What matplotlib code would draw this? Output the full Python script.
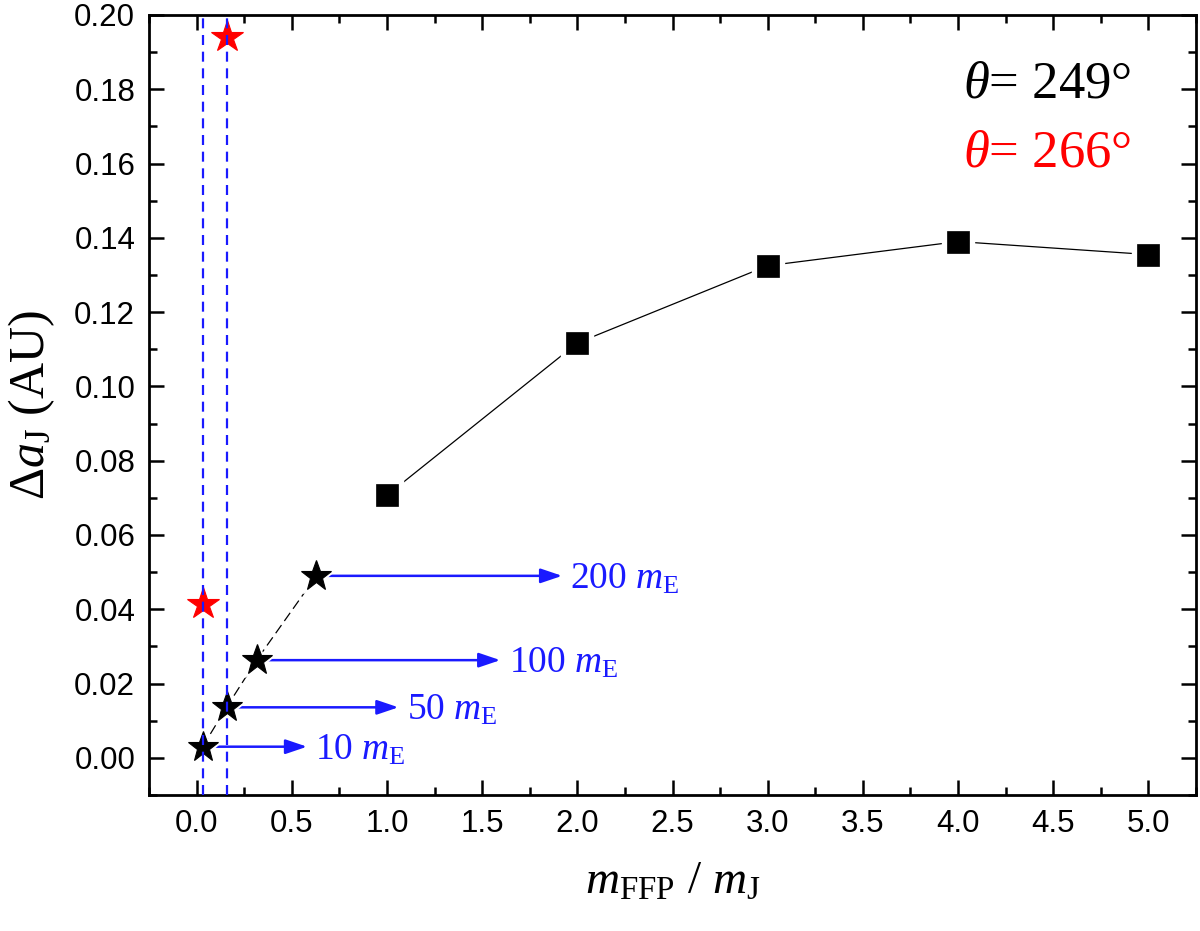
import numpy as np
import matplotlib
matplotlib.use("Agg")
import matplotlib.pyplot as plt
from matplotlib.ticker import MultipleLocator, FormatStrFormatter

plt.rcParams["font.family"] = ["Liberation Sans", "DejaVu Sans"]
plt.rcParams["mathtext.fontset"] = "custom"
plt.rcParams["mathtext.rm"] = "Liberation Serif"
plt.rcParams["mathtext.it"] = "Liberation Serif:italic"
plt.rcParams["mathtext.bf"] = "Liberation Serif:bold"

# --- data ---
jup_mass = [1, 2, 3, 4, 5]                       # m_FFP / m_J (squares)
jup_da   = [0.0707, 0.1117, 0.1325, 0.1390, 0.1355]

earth_labels = ["10", "50", "100", "200"]         # m_FFP in Earth masses
earth_x      = [0.0315, 0.157, 0.315, 0.629]      # same, in m_J
earth_da     = [0.0030, 0.0136, 0.0263, 0.0490]   # theta = 249 deg
arrow_tip    = [0.58, 1.06, 1.595, 1.92]

red_x  = [0.0315, 0.157]                          # theta = 266 deg
red_da = [0.0415, 0.1942]

vline_x = [0.033, 0.159]

BLUE = "#1a1aff"
SERIF = ["Liberation Serif", "DejaVu Serif"]

fig = plt.figure(figsize=(12, 9.31), dpi=100)
ax = fig.add_axes([0.1242, 0.1461, 0.8725, 0.8378])

# black squares with a gap between line and symbol
ax.plot(jup_mass, jup_da, color="black", lw=0.9, zorder=2)
ax.plot(jup_mass, jup_da, ls="none", marker="s", ms=23, mfc="white", mec="white", zorder=3)
ax.plot(jup_mass, jup_da, ls="none", marker="s", ms=16.5, mfc="black", mec="black", mew=0.5, zorder=4)

# black stars (dashed)
ax.plot(earth_x, earth_da, color="black", lw=0.9, ls=(0, (8, 4)), zorder=2)
ax.plot(earth_x, earth_da, ls="none", marker="*", ms=31, mfc="white", mec="white", zorder=3)
ax.plot(earth_x, earth_da, ls="none", marker="*", ms=23, mfc="black", mec="black", mew=0.8, zorder=4)

# red stars
ax.plot(red_x, red_da, ls="none", marker="*", ms=24, mfc="red", mec="red", mew=0.8, zorder=4)

for xv in vline_x:
    ax.axvline(xv, color=BLUE, lw=1.6, ls=(0, (4.5, 3)), zorder=5)

for lab, x0, y0, tip in zip(earth_labels, earth_x, earth_da, arrow_tip):
    ax.annotate("", xy=(tip, y0), xytext=(x0, y0),
                arrowprops=dict(arrowstyle="-|>,head_length=0.65,head_width=0.22",
                                color=BLUE, lw=1.8, mutation_scale=20,
                                shrinkA=0, shrinkB=0),
                zorder=2.5)
    ax.annotate(lab + r" $m_{\rm E}$", xy=(tip, y0), xytext=(6, -9),
                textcoords="offset points", ha="left", va="baseline",
                color=BLUE, fontsize=27, family=SERIF)

ax.text(0.7775, 0.8936, r"$\theta$= 249°", transform=ax.transAxes,
        fontsize=38, family=SERIF, color="black", va="baseline")
ax.text(0.7775, 0.806, r"$\theta$= 266°", transform=ax.transAxes,
        fontsize=38, family=SERIF, color="red", va="baseline")

ax.set_xlim(-0.25, 5.25)
ax.set_ylim(-0.01, 0.20)
ax.xaxis.set_major_locator(MultipleLocator(0.5))
ax.xaxis.set_minor_locator(MultipleLocator(0.25))
ax.yaxis.set_major_locator(MultipleLocator(0.02))
ax.yaxis.set_minor_locator(MultipleLocator(0.01))
ax.xaxis.set_major_formatter(FormatStrFormatter("%.1f"))
ax.yaxis.set_major_formatter(FormatStrFormatter("%.2f"))

ax.tick_params(which="both", direction="in", top=True, right=True, width=1.8)
ax.tick_params(which="major", length=11, labelsize=22.5, pad=10)
ax.tick_params(which="minor", length=5.5)
for sp in ax.spines.values():
    sp.set_linewidth(2)

ax.set_xlabel(r"$m_{\rm FFP}$ / $m_{\rm J}$", fontsize=34, family=SERIF, labelpad=16)
ax.set_ylabel(r"$\Delta a_{\rm J}$ (AU)", fontsize=36, family=SERIF, labelpad=12)

fig.savefig("out.png", dpi=100)
